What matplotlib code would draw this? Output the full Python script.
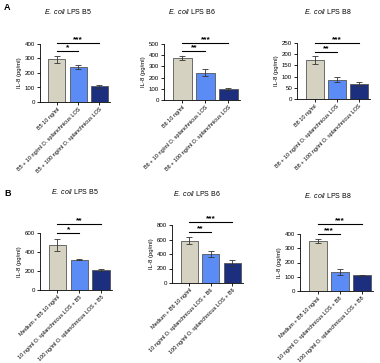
import matplotlib.pyplot as plt

plt.rcParams['font.family'] = ['Liberation Sans', 'DejaVu Sans']
plt.rcParams['mathtext.fontset'] = 'custom'
plt.rcParams['mathtext.rm'] = 'Liberation Sans'
plt.rcParams['mathtext.it'] = 'Liberation Sans:italic'

# IL-8 readouts (pg/ml)
a_b5 = [295, 240, 108]
a_b5_err = [25, 15, 12]
a_b6 = [375, 245, 100]
a_b6_err = [15, 35, 8]
a_b8 = [175, 87, 68]
a_b8_err = [17, 10, 10]
b_b5 = [475, 320, 210]
b_b5_err = [65, 5, 15]
b_b6 = [585, 400, 275]
b_b6_err = [45, 35, 45]
b_b8 = [350, 135, 110]
b_b8_err = [15, 20, 5]

stars_a5 = ["*", "***"]
stars_a6 = ["**", "***"]
stars_a8 = ["**", "***"]
stars_b5 = ["*", "**"]
stars_b6 = ["**", "***"]
stars_b8 = ["***", "***"]

def labels_a(b):
    return ["%s 10 ng/ml" % b,
            "%s + 10 ng/ml O. splanchnicus LOS" % b,
            "%s + 100 ng/ml O. splanchnicus LOS" % b]

def labels_b(b):
    return ["Medium + %s 10 ng/ml" % b,
            "10 ng/ml O. splanchnicus LOS + %s" % b,
            "100 ng/ml O. splanchnicus LOS + %s" % b]

colors = ["#d6d2c2", "#5b8cf6", "#1c2f7e"]

W, H = 380, 363
fig = plt.figure(figsize=(W / 100, H / 100), dpi=100)

def panel(box, vals, errs, stars, ymax, step, tick_labels, title, title_xy, sig_frac):
    left, right, top, bottom = box
    ax = fig.add_axes([left / W, (H - bottom) / H, (right - left) / W, (bottom - top) / H])
    x = range(len(vals))
    ax.bar(x, vals, width=0.8, color=colors, edgecolor="#555555", linewidth=0.6)
    ax.errorbar(x, vals, yerr=errs, fmt="none", ecolor="#333333",
                elinewidth=0.6, capsize=2.2, capthick=0.6)
    ax.set_xlim(-0.8, 2.5)
    ax.set_ylim(0, ymax)
    ax.set_yticks(range(0, ymax + 1, step))
    ax.set_xticks(list(x))
    ax.set_xticklabels(tick_labels, rotation=45, ha="right", rotation_mode="anchor", fontsize=4.0)
    ax.tick_params(axis="y", labelsize=4.4, length=2, width=0.6, pad=1.5)
    ax.tick_params(axis="x", length=2, width=0.6, pad=1.5)
    ax.set_ylabel("IL-8 (pg/ml)", fontsize=4.3, labelpad=2)
    for s in ["top", "right"]:
        ax.spines[s].set_visible(False)
    for s in ["left", "bottom"]:
        ax.spines[s].set_linewidth(0.6)
    # significance brackets: 1 vs 2, 1 vs 3
    for j, (star, f) in enumerate(zip(stars, sig_frac)):
        y = ymax * f
        ax.plot([0, j + 1], [y, y], color="black", lw=0.8, clip_on=False)
        ax.text((j + 1) / 2, y, star, ha="center", va="bottom", fontsize=6,
                fontweight="bold")
    fig.text(title_xy[0] / W, 1 - title_xy[1] / H, title, ha="center", va="center", fontsize=5)
    return ax

panel((40, 110, 44, 102), a_b5, a_b5_err, stars_a5, 400, 100, labels_a("B5"),
      r"$\it{E.\ coli}$ LPS B5", (68, 12), [0.88, 1.02])
panel((164, 240, 44, 100), a_b6, a_b6_err, stars_a6, 500, 100, labels_a("B6"),
      r"$\it{E.\ coli}$ LPS B6", (192, 12), [0.875, 1.02])
panel((297, 370, 43, 99), a_b8, a_b8_err, stars_a8, 250, 50, labels_a("B8"),
      r"$\it{E.\ coli}$ LPS B8", (328, 12), [0.84, 1.0])
panel((40, 112, 233, 290), b_b5, b_b5_err, stars_b5, 600, 200, labels_b("B5"),
      r"$\it{E.\ coli}$ LPS B5", (75, 192), [1.0, 1.16])
panel((172, 243, 225, 283), b_b6, b_b6_err, stars_b6, 800, 200, labels_b("B6"),
      r"$\it{E.\ coli}$ LPS B6", (197, 193), [0.88, 1.05])
panel((300, 373, 234, 291), b_b8, b_b8_err, stars_b8, 400, 100, labels_b("B8"),
      r"$\it{E.\ coli}$ LPS B8", (328, 195), [1.0, 1.17])

fig.text(4 / W, 1 - 7 / H, "A", fontsize=6.5, fontweight="bold", va="center")
fig.text(4 / W, 1 - 193 / H, "B", fontsize=6.5, fontweight="bold", va="center")

fig.savefig("out.png", dpi=100)
plt.close()
